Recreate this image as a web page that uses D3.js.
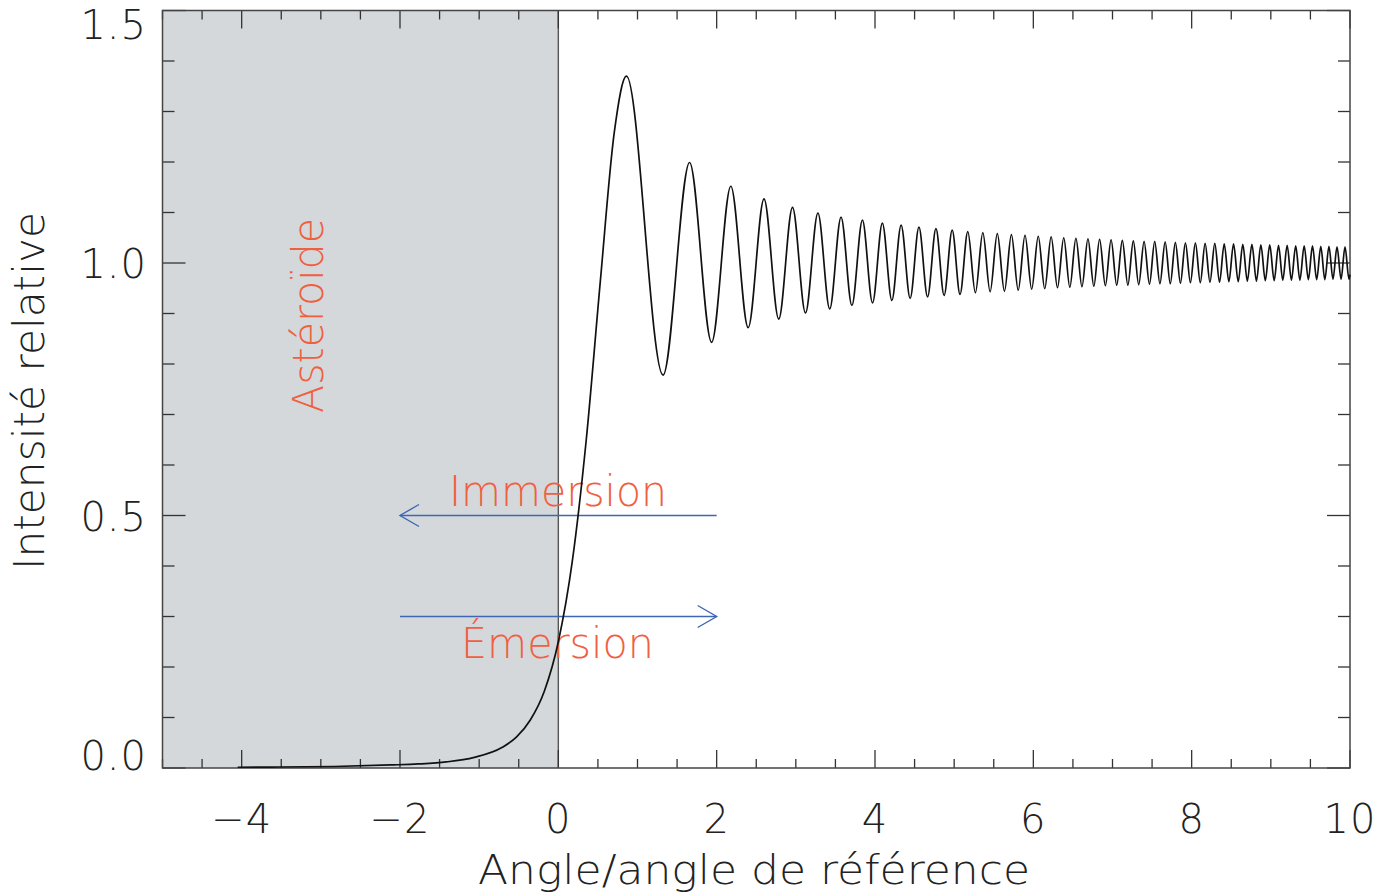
<!DOCTYPE html>
<html>
<head>
<meta charset="utf-8">
<script src="https://cdn.jsdelivr.net/npm/d3@7"></script>
<style>
  html, body { margin: 0; padding: 0; background: #fff; }
  svg { display: block; }
  text { font-family: "DejaVu Sans", sans-serif; font-weight: 200; }
</style>
</head>
<body>
<svg id="chart" width="1391" height="894"></svg>
<script>
// ---------- data ----------
// rising part of the curve (angle, relative intensity)
const riseX = [-4.05, -3.54, -2.83, -2.12, -1.77, -1.414, -1.061, -0.707, -0.530, -0.354, -0.177, 0.0, 0.177, 0.354, 0.530, 0.707];
const riseY = [0.0015, 0.002, 0.003, 0.006, 0.008, 0.012, 0.021, 0.041, 0.061, 0.095, 0.152, 0.25, 0.410, 0.652, 0.963, 1.259];

// fringe maxima
const maxX = [0.861, 1.658, 2.179, 2.598, 2.958, 3.279, 3.571, 3.841, 4.093, 4.330,
              4.555, 4.770, 4.975, 5.172, 5.362, 5.545, 5.723, 5.895, 6.062, 6.225,
              6.384, 6.538, 6.690, 6.837, 6.982, 7.124, 7.263, 7.399, 7.533, 7.665,
              7.794, 7.921, 8.047, 8.170, 8.292, 8.411, 8.529, 8.646, 8.761, 8.874,
              8.986, 9.097, 9.206, 9.314, 9.421, 9.526, 9.631, 9.734, 9.836, 9.937];
const maxY = [1.370, 1.199, 1.152, 1.127, 1.110, 1.099, 1.091, 1.085, 1.079, 1.075,
              1.071, 1.068, 1.065, 1.062, 1.060, 1.058, 1.056, 1.055, 1.053, 1.052,
              1.050, 1.049, 1.048, 1.047, 1.046, 1.045, 1.044, 1.043, 1.043, 1.042,
              1.041, 1.040, 1.040, 1.039, 1.039, 1.038, 1.038, 1.037, 1.037, 1.036,
              1.036, 1.035, 1.035, 1.034, 1.034, 1.034, 1.033, 1.033, 1.032, 1.032];

// fringe minima
const minX = [1.323, 1.936, 2.398, 2.784, 3.122, 3.428, 3.708, 3.969, 4.213, 4.444,
              4.664, 4.873, 5.074, 5.268, 5.454, 5.635, 5.809, 5.979, 6.144, 6.305,
              6.461, 6.614, 6.764, 6.910, 7.053, 7.194, 7.331, 7.467, 7.599, 7.730,
              7.858, 7.984, 8.109, 8.231, 8.352, 8.470, 8.588, 8.703, 8.818, 8.930,
              9.042, 9.151, 9.260, 9.367, 9.474, 9.579, 9.682, 9.785, 9.887, 9.987];
const minY = [0.778, 0.843, 0.872, 0.889, 0.901, 0.909, 0.916, 0.921, 0.926, 0.930,
              0.933, 0.936, 0.938, 0.941, 0.943, 0.944, 0.946, 0.948, 0.949, 0.951,
              0.952, 0.953, 0.954, 0.955, 0.956, 0.956, 0.957, 0.958, 0.959, 0.959,
              0.960, 0.961, 0.961, 0.962, 0.962, 0.963, 0.963, 0.964, 0.964, 0.965,
              0.965, 0.966, 0.966, 0.966, 0.967, 0.967, 0.967, 0.968, 0.968, 0.968];

const endX = [10.0];
const endY = [0.977];

// axis ticks and labels
const xMajorTicks = [-4, -2, 0, 2, 4, 6, 8, 10];
const xTickLabels = ["\u22124", "\u22122", "0", "2", "4", "6", "8", "10"];
const yMajorTicks = [0.0, 0.5, 1.0, 1.5];
const yTickLabels = ["0.0", "0.5", "1.0", "1.5"];

// annotations
const shadeRange = [-5, 0];
const arrowImmersion = { from: 2, to: -2, y: 0.5 };
const arrowEmersion = { from: -2, to: 2, y: 0.3 };

// ---------- drawing ----------
const svg = d3.select("#chart");
const L = 162.5, R = 1350, T = 10.5, B = 768;
const x = d3.scaleLinear().domain([-5, 10]).range([L, R]);
const y = d3.scaleLinear().domain([0, 1.5]).range([B, T]);

const tickColor = "#333";
const frameColor = "#444";
const redText = "#f0603f";
const blueArrow = "#3e67b3";

// shaded asteroid region
svg.append("rect")
  .attr("x", x(shadeRange[0])).attr("y", T)
  .attr("width", x(shadeRange[1]) - x(shadeRange[0]))
  .attr("height", B - T)
  .attr("fill", "#d4d8db");

// vertical line at 0
svg.append("line")
  .attr("x1", x(0)).attr("x2", x(0)).attr("y1", T).attr("y2", B)
  .attr("stroke", "#555").attr("stroke-width", 1.4);

// ticks (all four sides)
const xMinor = d3.range(-5, 10.001, 0.5).filter(v => !xMajorTicks.some(m => Math.abs(m - v) < 1e-6));
const yMinor = d3.range(0, 1.5001, 0.1).filter(v => !yMajorTicks.some(m => Math.abs(m - v) < 1e-6));
const tg = svg.append("g").attr("stroke", tickColor).attr("stroke-width", 1.3);
function xTick(v, len) {
  tg.append("line").attr("x1", x(v)).attr("x2", x(v)).attr("y1", B).attr("y2", B - len);
  tg.append("line").attr("x1", x(v)).attr("x2", x(v)).attr("y1", T).attr("y2", T + len);
}
function yTick(v, len) {
  tg.append("line").attr("y1", y(v)).attr("y2", y(v)).attr("x1", L).attr("x2", L + len);
  tg.append("line").attr("y1", y(v)).attr("y2", y(v)).attr("x1", R).attr("x2", R - len);
}
xMajorTicks.forEach(v => xTick(v, 18));
xMinor.forEach(v => xTick(v, 9));
yMajorTicks.forEach(v => yTick(v, 23));
yMinor.forEach(v => yTick(v, 12));

// frame
svg.append("rect")
  .attr("x", L).attr("y", T).attr("width", R - L).attr("height", B - T)
  .attr("fill", "none").attr("stroke", frameColor).attr("stroke-width", 1.5);

// tick labels
svg.append("g").selectAll("text").data(xMajorTicks).join("text")
  .attr("x", d => x(d)).attr("y", 833)
  .attr("text-anchor", "middle")
  .attr("font-size", 40).attr("fill", "#222")
  .attr("letter-spacing", 1)
  .text((d, i) => xTickLabels[i]);

svg.append("g").selectAll("text").data(yMajorTicks).join("text")
  .attr("x", 147)
  .attr("y", d => Math.min(Math.max(y(d), 24), 755) + 15)
  .attr("text-anchor", "end")
  .attr("font-size", 40).attr("fill", "#222")
  .attr("letter-spacing", 1)
  .text((d, i) => yTickLabels[i]);

// axis titles
svg.append("text")
  .attr("x", 478).attr("y", 884)
  .attr("font-size", 40).attr("fill", "#222")
  .attr("textLength", 552).attr("lengthAdjust", "spacingAndGlyphs")
  .text("Angle/angle de référence");

svg.append("text")
  .attr("transform", "translate(44,570) rotate(-90)")
  .attr("font-size", 42).attr("fill", "#222")
  .attr("textLength", 358).attr("lengthAdjust", "spacingAndGlyphs")
  .text("Intensité relative");

// asteroid label
svg.append("text")
  .attr("transform", "translate(323,413) rotate(-90)")
  .attr("font-size", 42).attr("fill", redText)
  .attr("textLength", 195).attr("lengthAdjust", "spacingAndGlyphs")
  .text("Astéroïde");

// arrows
function arrow(a) {
  const g = svg.append("g").attr("stroke", blueArrow).attr("stroke-width", 1.4).attr("fill", "none");
  const x0 = x(a.from), x1 = x(a.to), yy = y(a.y);
  const dir = Math.sign(x1 - x0);
  g.append("line").attr("x1", x0).attr("x2", x1).attr("y1", yy).attr("y2", yy);
  g.append("path").attr("d", `M${x1 - dir * 19},${yy - 11}L${x1},${yy}L${x1 - dir * 19},${yy + 11}`);
}
arrow(arrowImmersion);
arrow(arrowEmersion);

svg.append("text")
  .attr("x", 449).attr("y", 506)
  .attr("font-size", 42).attr("fill", redText)
  .attr("textLength", 218).attr("lengthAdjust", "spacingAndGlyphs")
  .text("Immersion");

svg.append("text")
  .attr("x", 461).attr("y", 658)
  .attr("font-size", 42).attr("fill", redText)
  .attr("textLength", 193).attr("lengthAdjust", "spacingAndGlyphs")
  .text("Émersion");

// intensity curve
const pts = [];
riseX.forEach((v, i) => pts.push([v, riseY[i]]));
maxX.forEach((v, i) => pts.push([v, maxY[i]]));
minX.forEach((v, i) => pts.push([v, minY[i]]));
endX.forEach((v, i) => pts.push([v, endY[i]]));
pts.sort((a, b) => a[0] - b[0]);

const line = d3.line()
  .x(d => x(d[0])).y(d => y(d[1]))
  .curve(d3.curveMonotoneX);

svg.append("path")
  .datum(pts)
  .attr("d", line)
  .attr("fill", "none")
  .attr("stroke", "#111")
  .attr("stroke-width", 1.7);
</script>
</body>
</html>
